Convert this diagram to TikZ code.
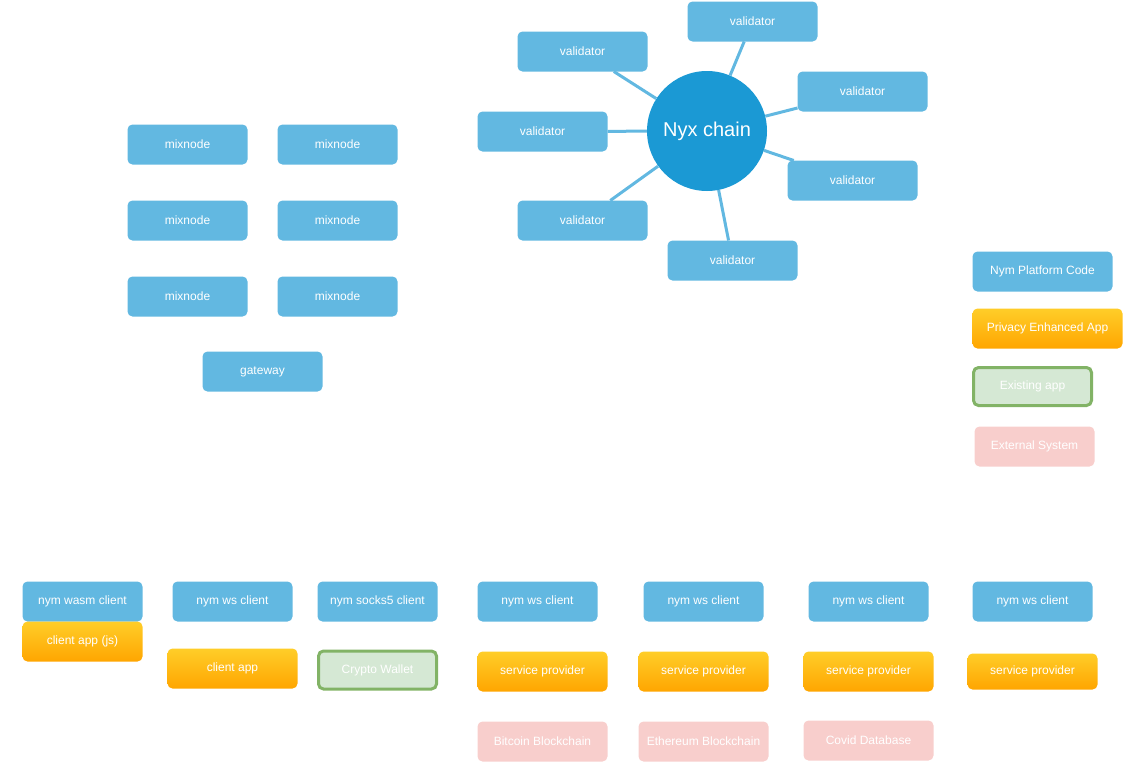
\documentclass[tikz,border=0pt]{standalone}
\usepackage{fontspec}
\setmainfont{Liberation Sans}
\usepackage{xcolor}
\usetikzlibrary{positioning}

\definecolor{nymblue}{HTML}{62B8E1}
\definecolor{nyxblue}{HTML}{1B99D4}
\definecolor{appgreen}{HTML}{D5E8D4}
\definecolor{appgreenline}{HTML}{82B366}
\definecolor{extpink}{HTML}{F8CECC}
\definecolor{sptop}{HTML}{FFCD28}
\definecolor{spbot}{HTML}{FFA500}

\begin{document}
\begin{tikzpicture}[
  x=1pt, y=-1pt,
  base/.style={rounded corners=5pt, minimum height=40pt, inner sep=2pt, outer sep=0pt,
    align=center, text=white, font=\fontsize{12}{14}\selectfont},
  nymbox/.style={base, fill=nymblue, minimum width=120pt},
  valbox/.style={nymbox, minimum width=130pt},
  appbox/.style={base, top color=sptop, bottom color=spbot, minimum width=130pt},
  existbox/.style={base, fill=appgreen, draw=appgreenline, line width=3pt, minimum width=118pt, minimum height=38pt},
  extbox/.style={base, fill=extpink, minimum width=130pt},
  link/.style={draw=nymblue, line width=3pt},
  node distance=30pt
]
\useasboundingbox (0,0) rectangle (1124,782);

% mixnet
\node[nymbox] (mixA) at (187.5,144.5) {mixnode};
\node[nymbox, right=30pt of mixA] (mixB) {mixnode};
\node[nymbox, below=36pt of mixA] (mixC) {mixnode};
\node[nymbox, right=30pt of mixC] (mixD) {mixnode};
\node[nymbox, below=36pt of mixC] (mixE) {mixnode};
\node[nymbox, right=30pt of mixE] (mixF) {mixnode};
\node[nymbox] (gw) at (262.5,371.5) {gateway};

% Nyx chain and validators
\node[circle, fill=nyxblue, minimum size=120pt, inner sep=0pt, text=white,
  font=\fontsize{20}{24}\selectfont] (nyx) at (707,131) {Nyx chain};
\node[valbox] (valA) at (582.5,51.5) {validator};
\node[valbox] (valB) at (752.5,21.5) {validator};
\node[valbox] (valC) at (862.5,91.5) {validator};
\node[valbox] (valD) at (542.5,131.5) {validator};
\node[valbox] (valE) at (852.5,180.5) {validator};
\node[valbox] (valF) at (582.5,220.5) {validator};
\node[valbox] (valG) at (732.5,260.5) {validator};

\foreach \v in {valA,valB,valC,valD,valE,valF,valG}
  \draw[link] (nyx) -- (\v);

% legend
\node[nymbox, minimum width=140pt] (lgNym) at (1042.5,271.5) {Nym Platform Code};
\node[appbox, minimum width=150pt] (lgApp) at (1047.5,328.5) {Privacy Enhanced App};
\node[existbox] (lgExist) at (1032.5,386.5) {Existing app};
\node[extbox, minimum width=120pt] (lgExt) at (1034.5,446.5) {External System};

% clients
\node[nymbox] (wasm) at (82.5,601.5) {nym wasm client};
\node[appbox, minimum width=120pt, below=0pt of wasm] (jsapp) {client app (js)};
\node[nymbox] (wsA) at (232.5,601.5) {nym ws client};
\node[appbox] (capp) at (232.5,668.5) {client app};
\node[nymbox] (socks) at (377.5,601.5) {nym socks5 client};
\node[existbox] (wallet) at (377.5,670) {Crypto Wallet};

% service providers
\node[nymbox] (wsB) at (537.5,601.5) {nym ws client};
\node[appbox] (spA) at (542.5,671.5) {service provider};
\node[extbox, below=30pt of spA] (btc) {Bitcoin Blockchain};
\node[nymbox] (wsC) at (703.5,601.5) {nym ws client};
\node[appbox] (spB) at (703.5,671.5) {service provider};
\node[extbox, below=30pt of spB] (eth) {Ethereum Blockchain};
\node[nymbox] (wsD) at (868.5,601.5) {nym ws client};
\node[appbox] (spC) at (868.5,671.5) {service provider};
\node[extbox] (covid) at (868.5,740.5) {Covid Database};
\node[nymbox] (wsE) at (1032.5,601.5) {nym ws client};
\node[appbox, minimum height=36pt] (spD) at (1032.5,671.5) {service provider};

\end{tikzpicture}
\end{document}
